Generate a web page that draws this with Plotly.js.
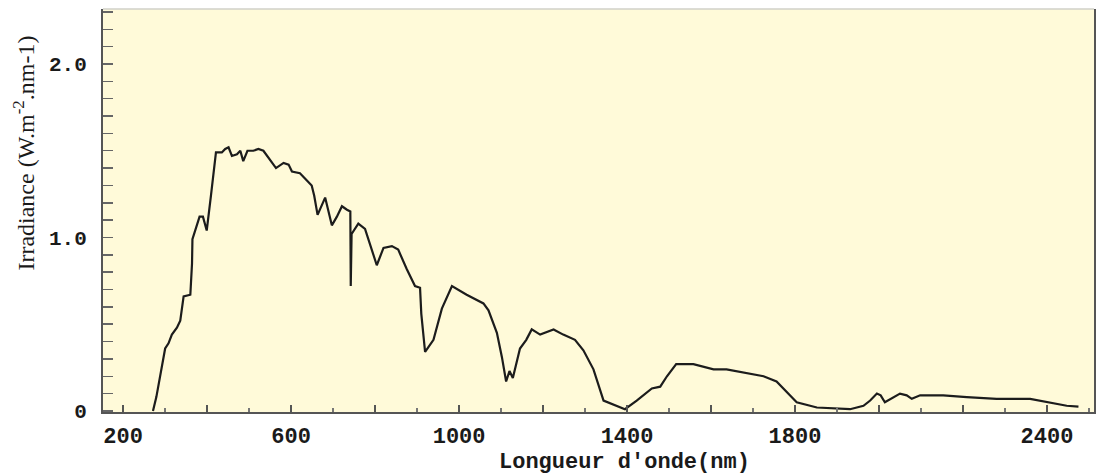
<!DOCTYPE html>
<html>
<head>
<meta charset="utf-8">
<script src="https://cdn.plot.ly/plotly-3.0.1.min.js"></script>
<style>html,body{margin:0;padding:0;background:#fff;}#chart{width:1097px;height:476px;}</style>
</head>
<body>
<div id="chart"></div>
<script>
// Wavelength (nm)
const wavelength = [271, 279, 300, 308, 316, 328, 336, 344, 360, 364, 365, 371, 382, 390, 399, 409, 421, 435, 443, 451, 459, 471, 479, 486, 496, 510, 522, 534, 550, 564, 582, 594, 602, 621, 637, 649, 655, 663, 681, 697, 709, 721, 733, 741, 742, 744, 760, 776, 804, 820, 840, 855, 875, 895, 907, 910, 919, 939, 959, 983, 1018, 1058, 1070, 1090, 1102, 1112, 1120, 1128, 1145, 1160, 1173, 1193, 1225, 1248, 1276, 1296, 1320, 1344, 1395, 1423, 1459, 1479, 1495, 1517, 1558, 1606, 1637, 1685, 1725, 1756, 1780, 1804, 1852, 1931, 1963, 1979, 1995, 2004, 2014, 2034, 2050, 2066, 2078, 2098, 2153, 2209, 2280, 2360, 2407, 2447, 2475];
// Irradiance (W.m-2.nm-1)
const irradiance = [0.0, 0.08, 0.36, 0.39, 0.44, 0.48, 0.52, 0.66, 0.67, 0.85, 0.99, 1.04, 1.12, 1.12, 1.04, 1.24, 1.49, 1.49, 1.51, 1.52, 1.47, 1.48, 1.50, 1.44, 1.50, 1.50, 1.51, 1.50, 1.45, 1.40, 1.43, 1.42, 1.38, 1.37, 1.33, 1.30, 1.24, 1.13, 1.23, 1.07, 1.12, 1.18, 1.16, 1.15, 0.72, 1.02, 1.08, 1.05, 0.84, 0.94, 0.95, 0.93, 0.82, 0.72, 0.71, 0.56, 0.34, 0.41, 0.59, 0.72, 0.67, 0.62, 0.58, 0.45, 0.31, 0.17, 0.23, 0.19, 0.36, 0.41, 0.47, 0.44, 0.47, 0.44, 0.41, 0.35, 0.24, 0.06, 0.01, 0.06, 0.13, 0.14, 0.20, 0.27, 0.27, 0.24, 0.24, 0.22, 0.20, 0.17, 0.11, 0.05, 0.02, 0.01, 0.03, 0.06, 0.10, 0.09, 0.05, 0.08, 0.10, 0.09, 0.07, 0.09, 0.09, 0.08, 0.07, 0.07, 0.05, 0.03, 0.025];

const xTickVals = [200, 400, 600, 800, 1000, 1200, 1400, 1600, 1800, 2000, 2200, 2400];
const xTickText = ["200", "", "600", "", "1000", "", "1400", "", "1800", "", "", "2400"];
const yTickVals = [0, 1, 2];
const yTickText = ["0", "1.0", "2.0"];

const xTitle = "Longueur d'onde(nm)";
const yTitle = "Irradiance (W.m<sup>-2</sup>.nm-1)";

const monoFamily = "Liberation Mono, Courier New, monospace";

const trace = {
  x: wavelength,
  y: irradiance,
  type: "scatter",
  mode: "lines",
  line: {color: "#1c1c1c", width: 2.2},
  hoverinfo: "skip"
};

const layout = {
  width: 1097,
  height: 476,
  margin: {l: 103, r: 3, t: 9, b: 64},
  paper_bgcolor: "#ffffff",
  plot_bgcolor: "#fffad9",
  showlegend: false,
  xaxis: {
    range: [152, 2512],
    tickmode: "array",
    tickvals: xTickVals,
    ticktext: xTickText,
    ticks: "inside",
    ticklen: 7,
    tickwidth: 1.5,
    tickcolor: "#555",
    minor: {dtick: 100, tick0: 0, ticks: "inside", ticklen: 4, tickwidth: 1.5, tickcolor: "#777"},
    showgrid: false,
    zeroline: false,
    showline: true,
    linecolor: "#555",
    linewidth: 2,
    tickfont: {family: monoFamily, size: 22, color: "#1a1a1a", weight: "bold"},
    ticklabelstandoff: 3
  },
  yaxis: {
    range: [-0.006, 2.317],
    tickmode: "array",
    tickvals: yTickVals,
    ticktext: yTickText,
    ticks: "inside",
    ticklen: 10,
    tickwidth: 1.5,
    tickcolor: "#666",
    minor: {dtick: 0.1, tick0: 0, ticks: "inside", ticklen: 10, tickwidth: 1.5, tickcolor: "#666"},
    showgrid: false,
    zeroline: false,
    showline: true,
    mirror: true,
    linecolor: "#555",
    linewidth: 2,
    tickfont: {family: monoFamily, size: 21, color: "#1a1a1a", weight: "bold"},
    ticklabelstandoff: 10
  },
  shapes: [
    {type: "line", xref: "paper", yref: "paper", x0: 0, x1: 1, y0: 1, y1: 1, line: {color: "#d0d0c8", width: 1.5}}
  ],
  annotations: [
    {text: xTitle, xref: "paper", yref: "paper", x: 0.526, y: -0.126, xanchor: "center", yanchor: "middle", showarrow: false,
     font: {family: monoFamily, size: 22, color: "#1a1a1a", weight: "bold"}},
    {text: yTitle, xref: "paper", yref: "paper", x: -0.08, y: 0.643, xanchor: "center", yanchor: "middle", textangle: -90, showarrow: false,
     font: {family: "Liberation Serif, Times New Roman, serif", size: 24, color: "#1a1a1a"}}
  ]
};

Plotly.newPlot("chart", [trace], layout, {staticPlot: true, displayModeBar: false});
</script>
</body>
</html>
